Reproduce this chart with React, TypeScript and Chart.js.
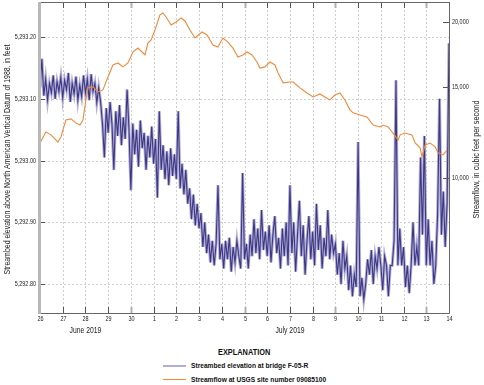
import React, { useEffect, useRef } from 'react';
import { Chart, registerables } from 'chart.js';
Chart.register(...registerables);

const dayTickLabels = ['26','27','28','29','30','1','2','3','4','5','6','7','8','9','10','11','12','13','14'];
const grayTickDays = [4, 9, 13, 17];
const monthLabels = ['June 2019', 'July 2019'];
const monthLabelDays = [2.0, 11.0];
const leftTitle = 'Streambed elevation above North American Vertical Datum of 1988, in feet';
const rightTitle = 'Streamflow, in cubic feet per second';

const leftTicks = [5292.8, 5292.9, 5293.0, 5293.1, 5293.2];
const rightTicks = [10000, 15000, 20000];

// Streamflow, days since 26 June 2019 00:00
const flowDays = [0.00,0.26,0.48,0.79,0.92,1.14,1.36,1.58,1.76,1.89,
  2.02,2.11,2.33,2.55,2.77,2.99,3.21,3.43,3.65,3.87,
  4.09,4.31,4.62,4.75,4.89,5.06,5.28,5.41,5.55,5.77,
  5.99,6.21,6.38,6.60,6.82,7.13,7.35,7.61,7.83,8.05,
  8.27,8.49,8.71,8.93,9.11,9.33,9.55,9.68,9.90,10.12,
  10.34,10.48,10.70,11.00,11.14,11.44,11.75,12.02,12.32,12.54,
  12.76,12.98,13.20,13.42,13.64,13.78,14.08,14.39,14.66,14.96,
  15.10,15.32,15.49,15.76,15.85,16.07,16.37,16.51,16.73,16.81,
  16.95,17.17,17.39,17.52,17.74,17.91];
const flowCfs = [11700,12290,12130,11750,12020,12960,13020,12790,12670,12960,
  14160,14940,15000,14670,14800,15670,16530,16680,16390,16680,
  17510,17820,17280,18220,18470,19300,20640,20810,20450,19730,
  20000,20360,20090,19300,18630,19130,18880,18060,17900,18630,
  18300,17820,17130,17280,17510,17280,16750,16310,16390,16750,
  16530,15950,15270,15330,15330,14940,14600,14350,14540,14350,
  14160,14470,14600,14160,13550,13370,13250,13130,12670,12560,
  12670,12560,12290,11860,12130,12230,12130,11700,11450,11000,
  11600,11700,11500,11200,11100,11340];

// Streambed elevation, every 2 hours from 26 June 2019 00:00
const elevStepDays = 1 / 12;
const elevFeet = [
  5293.118, 5293.165, 5293.105, 5293.132, 5293.098, 5293.125, 5293.110, 5293.138, 5293.100, 5293.128, 5293.112, 5293.135,
  5293.102, 5293.130, 5293.115, 5293.142, 5293.095, 5293.125, 5293.108, 5293.136, 5293.098, 5293.122, 5293.104, 5293.138,
  5293.110, 5293.132, 5293.098, 5293.140, 5293.112, 5293.125, 5293.094, 5293.118, 5293.095, 5293.060, 5293.005, 5293.085,
  5293.045, 5293.095, 5293.060, 5292.985, 5293.080, 5293.040, 5293.090, 5293.025, 5293.070, 5293.035, 5293.115, 5293.050,
  5292.952, 5293.060, 5293.010, 5293.050, 5292.990, 5293.065, 5293.020, 5293.045, 5292.985, 5293.040, 5293.005, 5293.055,
  5292.995, 5293.035, 5292.940, 5293.080, 5292.985, 5293.025, 5292.970, 5293.015, 5292.960, 5293.020, 5292.975, 5293.010,
  5292.970, 5293.080, 5292.955, 5292.995, 5292.945, 5292.985, 5292.930, 5292.955, 5292.905, 5292.945, 5292.895, 5292.930,
  5292.890, 5292.915, 5292.860, 5292.900, 5292.850, 5292.880, 5292.835, 5292.870, 5292.830, 5292.865, 5292.960, 5292.840,
  5292.865, 5292.825, 5292.870, 5292.840, 5292.875, 5292.820, 5292.860, 5292.835, 5292.870, 5292.845, 5292.825, 5292.980,
  5292.840, 5292.865, 5292.825, 5292.880, 5292.845, 5292.905, 5292.850, 5292.890, 5292.840, 5292.920, 5292.855, 5292.885,
  5292.845, 5292.895, 5292.835, 5292.880, 5292.910, 5292.850, 5292.875, 5292.825, 5292.890, 5292.845, 5292.900, 5292.830,
  5292.960, 5292.850, 5292.900, 5292.820, 5292.880, 5292.935, 5292.845, 5292.895, 5292.815, 5292.870, 5292.910, 5292.840,
  5292.885, 5292.830, 5292.930, 5292.855, 5292.895, 5292.825, 5292.875, 5292.845, 5292.920, 5292.840, 5292.880, 5292.850,
  5292.865, 5292.815, 5292.850, 5292.800, 5292.870, 5292.825, 5292.845, 5292.790, 5292.830, 5292.780, 5292.815, 5292.795,
  5293.030, 5292.780, 5292.810, 5292.775, 5292.800, 5292.840, 5292.815, 5292.855, 5292.800, 5292.845, 5292.825, 5292.860,
  5292.830, 5292.790, 5292.845, 5292.830, 5292.780, 5292.830, 5292.830, 5292.870, 5293.130, 5292.830, 5292.890, 5292.830,
  5292.860, 5292.795, 5292.830, 5292.785, 5292.830, 5292.900, 5292.830, 5292.860, 5292.830, 5293.005, 5292.880, 5293.040,
  5292.830, 5292.905, 5292.830, 5292.870, 5292.800, 5292.830, 5292.915, 5293.100, 5292.880, 5292.950, 5292.860, 5292.930,
  5293.190];

const FONT = "'Liberation Sans',Arial,sans-serif";
const ORANGE = '#ef8a3a';
const DARK = '#3d3883';
const LIGHT = '#b2aed6';
const TEXT = '#222';

function cText(ctx: CanvasRenderingContext2D, text: string, x: number, y: number, font: string, align: CanvasTextAlign, sx: number, rot = 0) {
  ctx.save();
  ctx.translate(x, y);
  if (rot) ctx.rotate(rot);
  ctx.scale(sx, 1);
  ctx.font = font;
  ctx.fillStyle = TEXT;
  ctx.textAlign = align;
  ctx.textBaseline = 'middle';
  ctx.fillText(text, 0, 0);
  ctx.restore();
}

function fitText(ctx: CanvasRenderingContext2D, text: string, cx: number, cy: number, font: string, length: number, rot: number) {
  ctx.save();
  ctx.font = font;
  const w = ctx.measureText(text).width;
  ctx.restore();
  cText(ctx, text, cx, cy, font, 'center', length / w, rot);
}

const framePlugin = {
  id: 'frame',
  beforeDatasetsDraw(chart: any) {
    const { ctx, chartArea: { left, right, top, bottom }, scales } = chart;
    ctx.save();
    ctx.strokeStyle = '#cfcfcf';
    ctx.lineWidth = 1;
    ctx.setLineDash([2, 2]);
    for (let d = 1; d < dayTickLabels.length - 1; d++) {
      const px = Math.round(scales.x.getPixelForValue(d)) + 0.5;
      ctx.beginPath(); ctx.moveTo(px, top); ctx.lineTo(px, bottom); ctx.stroke();
    }
    leftTicks.forEach((v) => {
      const py = Math.round(scales.y.getPixelForValue(v)) + 0.5;
      ctx.beginPath(); ctx.moveTo(left, py); ctx.lineTo(right, py); ctx.stroke();
    });
    ctx.restore();
  },
  afterDraw(chart: any) {
    const { ctx, chartArea: { left, right, top, bottom }, scales } = chart;
    ctx.save();
    ctx.setLineDash([]);
    for (let d = 0; d < dayTickLabels.length; d++) {
      const px = Math.round(scales.x.getPixelForValue(d)) + 0.5;
      const gray = grayTickDays.includes(d);
      ctx.strokeStyle = gray ? '#b0b0b0' : '#555';
      ctx.lineWidth = gray ? 2 : 1;
      ctx.beginPath(); ctx.moveTo(px, bottom); ctx.lineTo(px, bottom - 6); ctx.stroke();
      ctx.beginPath(); ctx.moveTo(px, top); ctx.lineTo(px, top + 6); ctx.stroke();
      cText(ctx, dayTickLabels[d], px, bottom + 6, `7px ${FONT}`, 'center', 0.78);
    }
    ctx.strokeStyle = '#555';
    ctx.lineWidth = 1;
    leftTicks.forEach((v) => {
      const py = Math.round(scales.y.getPixelForValue(v)) + 0.5;
      ctx.beginPath(); ctx.moveTo(left, py); ctx.lineTo(left + 5, py); ctx.stroke();
      cText(ctx, v.toLocaleString('en-US', { minimumFractionDigits: 2, maximumFractionDigits: 2 }), left - 4, py, `7px ${FONT}`, 'right', 0.78);
    });
    rightTicks.forEach((v) => {
      const py = Math.round(scales.y1.getPixelForValue(v)) + 0.5;
      ctx.beginPath(); ctx.moveTo(right - 6, py); ctx.lineTo(right, py); ctx.stroke();
      cText(ctx, v.toLocaleString('en-US'), right + 3, py, `7px ${FONT}`, 'left', 0.78);
    });
    ctx.strokeStyle = '#666';
    ctx.beginPath();
    ctx.moveTo(left, top + 0.5); ctx.lineTo(right + 0.5, top + 0.5);
    ctx.lineTo(right + 0.5, bottom + 0.5); ctx.lineTo(left, bottom + 0.5);
    ctx.stroke();
    ctx.strokeStyle = '#b8b8b8';
    ctx.lineWidth = 3;
    ctx.beginPath(); ctx.moveTo(left - 0.5, top); ctx.lineTo(left - 0.5, bottom + 1); ctx.stroke();
    monthLabels.forEach((t, i) => {
      cText(ctx, t, scales.x.getPixelForValue(monthLabelDays[i]), bottom + 18, `8.5px ${FONT}`, 'center', 0.8);
    });
    const midY = (top + bottom) / 2 + 2;
    fitText(ctx, leftTitle, 8, midY, `8.5px ${FONT}`, 230, -Math.PI / 2);
    fitText(ctx, rightTitle, 477, midY, `8.5px ${FONT}`, 118, -Math.PI / 2);
    ctx.restore();
  },
};

export default function App() {
  const ref = useRef<HTMLCanvasElement>(null);
  useEffect(() => {
    if (!ref.current) return;
    const flowData = flowDays.map((d, i) => ({ x: d, y: flowCfs[i] }));
    const elevData = elevFeet.map((v, i) => ({ x: i * elevStepDays, y: v }));
    const chart = new Chart(ref.current, {
      type: 'line',
      data: {
        datasets: [
          { label: 'Streamflow at USGS site number 09085100', data: flowData, yAxisID: 'y1', borderColor: ORANGE, borderWidth: 1.1, pointRadius: 0, tension: 0 },
          { label: 'Streambed elevation at bridge F-05-R', data: elevData, yAxisID: 'y', borderColor: DARK, borderWidth: 1.1, pointRadius: 0, tension: 0 },
          { label: 'band', data: elevData, yAxisID: 'y', borderColor: LIGHT, borderWidth: 3, pointRadius: 0, tension: 0 },
        ],
      },
      options: {
        animation: false,
        responsive: false,
        maintainAspectRatio: false,
        layout: { padding: { top: 2, left: 0, right: 0, bottom: 0 } },
        plugins: { legend: { display: false }, tooltip: { enabled: false } },
        scales: {
          x: {
            type: 'linear', min: 0, max: 18,
            grid: { display: false }, border: { display: false },
            ticks: { display: false },
            afterFit: (s: any) => { s.height = 27; },
          },
          y: {
            type: 'linear', position: 'left', min: 5292.753, max: 5293.257,
            grid: { display: false }, border: { display: false },
            ticks: { display: false },
            afterFit: (s: any) => { s.width = 40; },
          },
          y1: {
            type: 'logarithmic', position: 'right', min: 5510, max: 21850,
            grid: { display: false }, border: { display: false },
            ticks: { display: false },
            afterFit: (s: any) => { s.width = 35; },
          },
        },
      },
      plugins: [framePlugin],
    });
    return () => chart.destroy();
  }, []);

  const txt: React.CSSProperties = { position: 'absolute', fontFamily: FONT, fontWeight: 'bold', color: '#111', whiteSpace: 'nowrap', lineHeight: '10px', transformOrigin: '0 50%', transform: 'scaleX(0.83)' };
  return (
    <div style={{ position: 'fixed', left: 0, top: 0, width: 484, height: 385, background: '#fff' }}>
      <canvas ref={ref} width={484} height={340} style={{ position: 'absolute', left: 0, top: 0, width: 484, height: 340 }} />
      <div style={{ ...txt, left: 218, top: 347, fontSize: 9, transform: 'scaleX(0.82)' }}>EXPLANATION</div>
      <div style={{ position: 'absolute', left: 163, top: 365, width: 23, height: 2, background: LIGHT }} />
      <div style={{ ...txt, left: 191, top: 361, fontSize: 8 }}>Streambed elevation at bridge F-05-R</div>
      <div style={{ position: 'absolute', left: 163, top: 379, width: 23, height: 1, background: ORANGE }} />
      <div style={{ ...txt, left: 191, top: 375, fontSize: 8 }}>Streamflow at USGS site number 09085100</div>
    </div>
  );
}
